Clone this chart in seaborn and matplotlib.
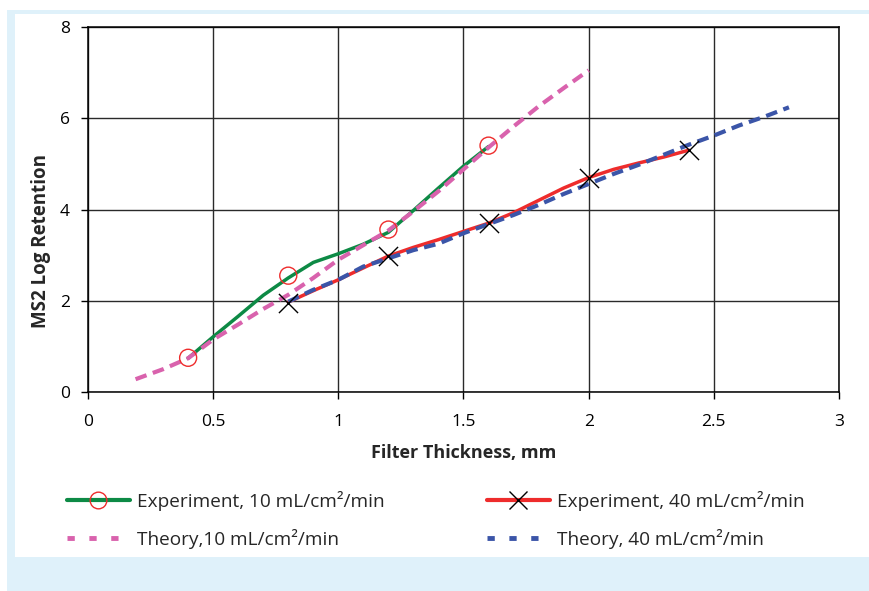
import matplotlib
matplotlib.use("Agg")
import matplotlib.pyplot as plt
import seaborn as sns
import pandas as pd
from matplotlib.lines import Line2D
from matplotlib.patches import Rectangle

# ---- data ----
exp10_x = [0.4, 0.8, 1.2, 1.6]
exp10_y = [0.75, 2.55, 3.56, 5.40]
exp40_x = [0.8, 1.2, 1.6, 2.0, 2.4]
exp40_y = [1.96, 2.98, 3.70, 4.70, 5.30]

# traced smoothed experiment curves
exp10_curve_x = [0.4, 0.5, 0.6, 0.7, 0.8, 0.9, 1.0, 1.1, 1.2, 1.3, 1.4, 1.5, 1.6]
exp10_curve_y = [0.74, 1.21, 1.66, 2.12, 2.50, 2.84, 3.03, 3.24, 3.50, 3.98, 4.47, 4.95, 5.38]
exp40_curve_x = [0.8, 0.9, 1.0, 1.1, 1.2, 1.3, 1.4, 1.5, 1.6, 1.7, 1.8, 1.9, 2.0, 2.1, 2.2, 2.3, 2.4]
exp40_curve_y = [1.97, 2.22, 2.46, 2.72, 2.98, 3.17, 3.34, 3.52, 3.70, 3.93, 4.20, 4.47, 4.70, 4.88, 5.02, 5.15, 5.30]

# theory curves
th10_x = [0.19, 0.3, 0.4, 0.5, 0.6, 0.7, 0.8, 0.9, 1.0, 1.1, 1.2, 1.3, 1.4, 1.5, 1.6, 1.7, 1.8, 1.9, 2.0]
th10_y = [0.28, 0.50, 0.74, 1.15, 1.48, 1.82, 2.13, 2.50, 2.90, 3.22, 3.54, 3.96, 4.40, 4.88, 5.36, 5.82, 6.26, 6.66, 7.05]
th40_x = [0.8, 0.9, 1.0, 1.1, 1.2, 1.3, 1.4, 1.5, 1.6, 1.7, 1.8, 1.9, 2.0, 2.1, 2.2, 2.3, 2.4, 2.5, 2.6, 2.7, 2.8]
th40_y = [1.98, 2.24, 2.46, 2.75, 2.93, 3.11, 3.25, 3.48, 3.68, 3.88, 4.10, 4.34, 4.56, 4.78, 4.98, 5.20, 5.42, 5.62, 5.84, 6.03, 6.24]

x_ticks = [0, 0.5, 1, 1.5, 2, 2.5, 3]
x_tick_labels = ["0", "0.5", "1", "1.5", "2", "2.5", "3"]
y_ticks = [0, 2, 4, 6, 8]
y_tick_labels = ["0", "2", "4", "6", "8"]

labels = ["Experiment, 10 mL/cm\u00b2/min", "Theory,10 mL/cm\u00b2/min",
          "Experiment, 40 mL/cm\u00b2/min", "Theory, 40 mL/cm\u00b2/min"]

GREEN = "#0d8a45"
RED = "#ee2c2c"
PINK = "#d962ad"
BLUE = "#3b55a8"
LIGHT = "#dff1fa"

sns.set_theme(style="white")
plt.rcParams["font.family"] = ["Open Sans", "DejaVu Sans"]

W, H = 870, 591
fig = plt.figure(figsize=(W / 100, H / 100), dpi=100)
fig.patch.set_facecolor("white")
fig.patches.append(Rectangle((7 / W, 0), 1, 1 - 10 / H, transform=fig.transFigure,
                             facecolor=LIGHT, edgecolor="none", zorder=-2))
fig.patches.append(Rectangle((15 / W, 1 - 557 / H), 1, (557 - 14) / H, transform=fig.transFigure,
                             facecolor="white", edgecolor="none", zorder=-1))

ax = fig.add_axes([88 / W, 1 - 392 / H, 751 / W, 365 / H])
ax.set_facecolor("white")

dash = (2.8, 1.6)
sns.lineplot(x=exp10_curve_x, y=exp10_curve_y, ax=ax, color=GREEN, lw=2.5, sort=False, zorder=3)
sns.lineplot(x=exp40_curve_x, y=exp40_curve_y, ax=ax, color=RED, lw=2.5, sort=False, zorder=3)
sns.lineplot(x=th10_x, y=th10_y, ax=ax, color=PINK, lw=3.0, sort=False, zorder=4)
ax.lines[-1].set_dashes(dash)
sns.lineplot(x=th40_x, y=th40_y, ax=ax, color=BLUE, lw=3.0, sort=False, zorder=4)
ax.lines[-1].set_dashes(dash)

sns.scatterplot(x=exp10_x, y=exp10_y, ax=ax, marker="o", s=150, facecolors="none",
                edgecolor=RED, linewidth=1.0, zorder=5)
sns.scatterplot(x=exp40_x, y=exp40_y, ax=ax, marker="x", s=190, color="black",
                linewidth=1.0, zorder=5)

ax.set_xlim(0, 3)
ax.set_ylim(0, 8)
ax.set_xticks(x_ticks)
ax.set_xticklabels(x_tick_labels)
ax.set_yticks(y_ticks)
ax.set_yticklabels(y_tick_labels)
ax.grid(True, color="#2a2a2a", lw=1.0)
ax.set_axisbelow(True)
for s in ax.spines.values():
    s.set_color("black")
    s.set_linewidth(1.1)
ax.tick_params(axis="x", bottom=True, direction="out", length=5, width=1, pad=11,
               labelsize=12.5, colors="black")
ax.tick_params(axis="y", left=True, direction="out", length=5, width=1, pad=8,
               labelsize=12.5, colors="black")

ax.set_xlabel("Filter Thickness, mm", fontsize=13, fontweight="bold", va="center")
ax.xaxis.set_label_coords(0.5, (392 - 453) / 365)
ax.set_ylabel("MS2 Log Retention", fontsize=13.5, fontweight="bold", va="center")
ax.yaxis.set_label_coords((41 - 88) / 751, (392 - 241) / 365)

h_exp10 = Line2D([0, 0.5, 1], [0, 0, 0], color=GREEN, lw=3, marker="o", markersize=12,
                 markerfacecolor="none", markeredgecolor=RED, markeredgewidth=1.0, markevery=[1])
h_exp40 = Line2D([], [], color=RED, lw=3, marker="x", markersize=13,
                 markeredgecolor="black", markeredgewidth=1.0)
h_th10 = Line2D([], [], color=PINK, lw=3.5, dashes=(1.5, 3.0))
h_th40 = Line2D([], [], color=BLUE, lw=3.5, dashes=(1.5, 3.0))

leg_kw = dict(frameon=False, fontsize=13.7, handlelength=3.3, handletextpad=0.4,
              labelspacing=0.95, loc="upper left", borderaxespad=0, borderpad=0)
fig.legend([h_exp10, h_th10], [labels[0], labels[1]],
           bbox_to_anchor=(67 / W, 1 - 491 / H), **leg_kw)
fig.legend([h_exp40, h_th40], [labels[2], labels[3]],
           bbox_to_anchor=(487 / W, 1 - 491 / H), **leg_kw)

fig.savefig("out.png", dpi=100, facecolor=fig.get_facecolor())
